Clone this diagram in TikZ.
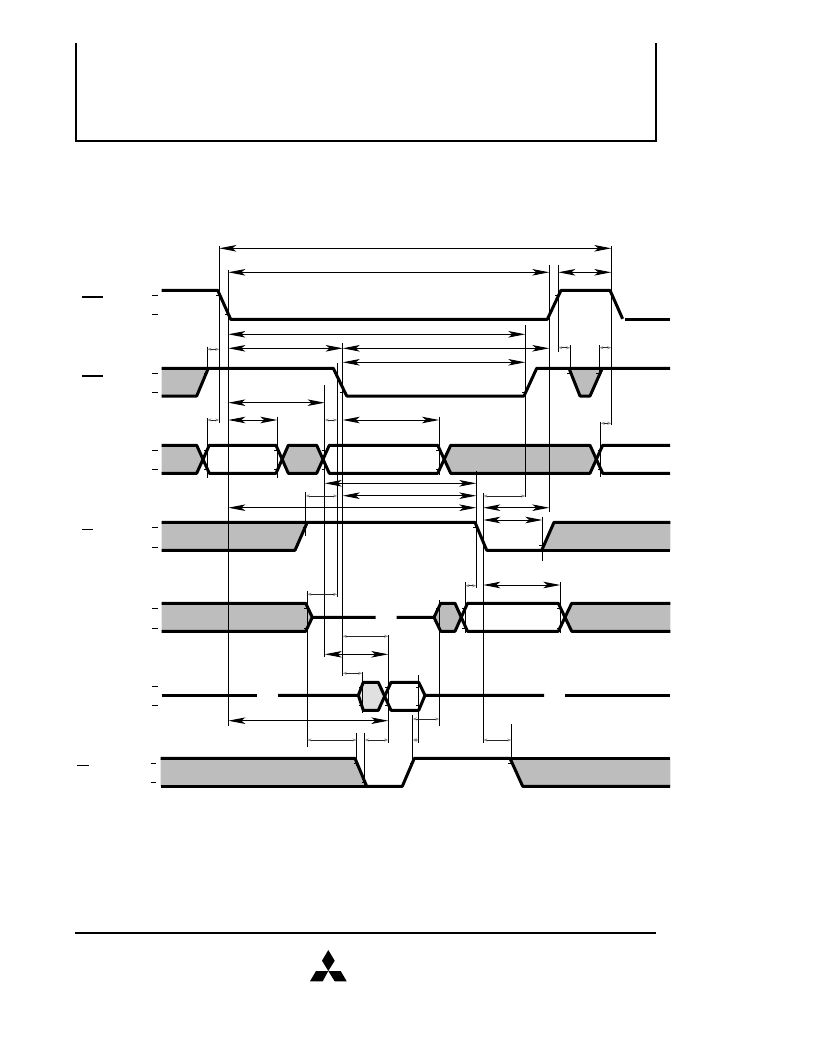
\documentclass[tikz,border=0pt]{standalone}
\usetikzlibrary{arrows.meta}
\definecolor{wavegray}{HTML}{BDBDBD}
\definecolor{wavelight}{HTML}{E0E0E0}
\tikzset{
  x=1pt,y=-1pt,
  wave/.style={line width=3pt,line join=round,black},
  bare/.style={fill=wavegray,draw=none},
  barelight/.style={fill=wavelight,draw=none},
  frameline/.style={line width=2pt,black},
  tick/.style={line width=1.2pt,black},
  edgetick/.style={line width=0.8pt,black},
  vline/.style={line width=1pt,black},
  bigarrow/.style={line width=0.9pt,black,{Stealth[length=17pt,width=6.5pt,inset=4pt]}-{Stealth[length=17pt,width=6.5pt,inset=4pt]}},
  smallarrow/.style={line width=0.7pt,black!85,{Stealth[length=4pt,width=3pt,inset=1pt,black!45]}-{Stealth[length=4pt,width=3pt,inset=1pt,black!45]}},
}
\begin{document}
\begin{tikzpicture}
\useasboundingbox (0,0) rectangle (816,1056);
% frame
\draw[frameline] (76,43) -- (76,141) -- (656,141) -- (656,43);
\draw[frameline] (75,933) -- (656,933);
% logo
\fill[black] (328.3,950) -- (334.7,960.7) -- (328.3,971) -- (322,960.7) -- cycle;
\fill[black] (328.3,971) -- (316,971) -- (310,981.3) -- (322.7,981.3) -- cycle;
\fill[black] (328.3,971) -- (340.7,971) -- (346.7,981.3) -- (334.7,981.3) -- cycle;
% gray areas
\path[bare] (161.7,368.3) -- (208.3,368.3) -- (196.7,396) -- (161.7,396) -- cycle;
\path[bare] (569,368.3) -- (602.3,368.3) -- (590,396) -- (580,396) -- cycle;
\path[bare] (161.7,445.3) -- (196.7,445.3) -- (202.9,459.3) -- (196.7,473.3) -- (161.7,473.3) -- cycle;
\path[bare] (288.3,445.3) -- (316.7,445.3) -- (323,459.3) -- (316.7,473.3) -- (288.3,473.3) -- (282.2,459.3) -- cycle;
\path[bare] (450.7,445.3) -- (590,445.3) -- (596.3,459.3) -- (590,473.3) -- (450.7,473.3) -- (444.2,459.3) -- cycle;
\path[bare] (161.7,522.3) -- (307.3,522.3) -- (295,550.3) -- (161.7,550.3) -- cycle;
\path[bare] (554,522.3) -- (670.3,522.3) -- (670.3,550.3) -- (541.7,550.3) -- cycle;
\path[bare] (161.7,603.3) -- (305.7,603.3) -- (312.3,617.3) -- (305.7,631.3) -- (161.7,631.3) -- cycle;
\path[bare] (434,617.3) -- (440.7,603.3) -- (455,603.3) -- (462,617.3) -- (455,631.3) -- (440.7,631.3) -- cycle;
\path[bare] (571.7,603.3) -- (670.3,603.3) -- (670.3,631.3) -- (571.7,631.3) -- (565,617.3) -- cycle;
\path[barelight] (358.3,695.3) -- (363.3,682.3) -- (378.3,682.3) -- (384.7,696.3) -- (378.3,710.3) -- (363.3,710.3) -- cycle;
\path[bare] (160.7,758.3) -- (355,758.3) -- (366.7,786.3) -- (160.7,786.3) -- cycle;
\path[bare] (510,758.3) -- (670.3,758.3) -- (670.3,786.3) -- (522.7,786.3) -- cycle;
% waves
\draw[wave] (161.7,290.3) -- (217.7,290.3) -- (230.7,319.3) -- (547.3,319.3) -- (561,290.3) -- (610,290.3) -- (622.6,318.8);
\draw[wave] (624.5,319.3) -- (670,319.3);
\draw[wave] (161.7,368.3) -- (333.3,368.3) -- (346.7,396) -- (524,396) -- (536.7,368.3) -- (670,368.3);
\draw[wave] (161.7,396) -- (196.7,396) -- (208.3,368.3);
\draw[wave] (569,368.3) -- (580,396) -- (590,396) -- (602.3,368.3);
\draw[wave] (161.7,445.3) -- (196.7,445.3) -- (209.3,473.3) -- (276,473.3) -- (288.3,445.3) -- (316.7,445.3) -- (329.3,473.3) -- (437.7,473.3) -- (450.7,445.3) -- (590,445.3) -- (602.7,473.3) -- (670,473.3);
\draw[wave] (161.7,473.3) -- (196.7,473.3) -- (209.3,445.3) -- (276,445.3) -- (288.3,473.3) -- (316.7,473.3) -- (329.3,445.3) -- (437.7,445.3) -- (450.7,473.3) -- (590,473.3) -- (602.7,445.3) -- (670,445.3);
\draw[wave] (161.7,550.3) -- (295,550.3) -- (307.3,522.3);
\draw[wave] (161.7,522.3) -- (475,522.3) -- (486.7,550.3) -- (541.7,550.3) -- (554,522.3) -- (670.3,522.3);
\draw[wave] (541.7,550.3) -- (670.3,550.3);
\draw[wave] (161.7,603.3) -- (305.7,603.3) -- (312.3,617.3) -- (375.7,617.3);
\draw[wave] (161.7,631.3) -- (305.7,631.3) -- (312.3,617.3);
\draw[wave] (396.7,617.3) -- (434,617.3) -- (440.7,603.3) -- (455,603.3) -- (467.5,631.3) -- (558.3,631.3) -- (571.7,603.3) -- (670.3,603.3);
\draw[wave] (434,617.3) -- (440.7,631.3) -- (455,631.3) -- (467.5,603.3) -- (558.3,603.3) -- (571.7,631.3) -- (670.3,631.3);
\draw[wave] (161.7,695.3) -- (256.7,695.3);
\draw[wave] (278,695.3) -- (358.3,695.3) -- (363.3,682.3) -- (378.3,682.3) -- (391,710.3) -- (418.7,710.3) -- (425,695.3) -- (544,695.3);
\draw[wave] (358.3,695.3) -- (363.3,710.3) -- (378.3,710.3) -- (391,682.3) -- (418.7,682.3) -- (425,695.3);
\draw[wave] (565.3,695.3) -- (670,695.3);
\draw[wave] (160.7,758.3) -- (355,758.3) -- (366.7,786.3) -- (402.3,786.3) -- (414.3,758.3) -- (510,758.3) -- (522.7,786.3) -- (670,786.3);
\draw[wave] (160.7,786.3) -- (366.7,786.3);
\draw[wave] (510,758.3) -- (670,758.3);
% level ticks and overbars
\foreach \yy in {295.7,314.3,373.3,392.3,450.3,469.3,527.3,547.7,608.3,628.3,686.7,705.3}
  \draw[tick] (152.3,\yy) -- (157.7,\yy);
\foreach \yy in {763.3,782.3}
  \draw[tick] (150.7,\yy) -- (156,\yy);
\draw[tick] (82.3,297) -- (103.3,297);
\draw[tick] (82.3,376) -- (103.3,376);
\draw[tick] (82.3,529.3) -- (92.7,529.3);
\draw[tick] (77,765.3) -- (89.3,765.3);
% vertical reference lines
\foreach \xx/\ya/\yb in {
  207.3/346.7/373, 207.3/418.3/478.3, 219.3/246/423, 228.3/270/726,
  277.3/416.7/478, 324.7/385/657.3, 337.3/362.7/597.3, 342.7/343.3/676,
  305.7/491.7/536, 307.3/590.7/746.7, 356.7/733.3/766, 364.7/732.7/788.3,
  362.3/671.7/712.7, 525.3/325/496.7, 549.3/265/511.7, 558.3/265/351.7,
  611.3/246/425, 570.3/345/373, 599.3/345/373, 439/416.7/475,
  600.7/421.7/476.7, 476.3/470.7/588.3, 483.3/493.3/743.3, 542.3/516.7/560.7,
  465.3/581.7/633.3, 560.3/581.7/633.3, 439.3/600/726, 388.3/635/742.7,
  412.7/715/763, 418.7/675/743.3, 511.3/724/761.7}
  \draw[vline] (\xx,\ya) -- (\xx,\yb);
% small marks where reference lines meet the edges
\foreach \xx/\yy in {
  207.3/373, 219.3/295, 228.3/314, 207.3/450, 207.3/469, 277.3/450, 277.3/469,
  324.7/450, 324.7/469, 439/450, 439/469, 600.7/450, 600.7/469, 305.7/527,
  525.3/392, 542.3/545, 558.3/295, 570.3/373, 599.3/373, 337.3/373, 342.7/392,
  307.3/608, 307.3/628, 465.3/608, 465.3/628, 560.3/608, 560.3/628,
  439.3/608, 362.3/687, 362.3/705, 388.3/687, 388.3/705, 418.7/687, 418.7/705,
  356.7/763, 364.7/782, 412.7/763, 511.3/763, 476.3/527}
  \draw[edgetick] (\xx-3,\yy) -- (\xx,\yy);
% large dimension arrows
\foreach \yy/\xa/\xb in {
  248.3/219.3/611.3, 272.3/228.3/549.3, 272.3/558.3/611.3, 334.3/228.3/525.3,
  348.3/228.3/342.7, 348.3/342.7/549.3, 362.3/342.7/525.3, 402.7/228.3/324.7,
  420/228.3/277.3, 420/342.7/439, 483.3/324.7/476.3, 495.7/342.7/476.3,
  507.7/228.3/476.3, 507.7/483.3/549.3, 520/483.3/542.3, 585/483.3/560.3,
  654.3/324.7/388.3, 720.7/228.3/388.3}
  \draw[bigarrow] (\xa,\yy) -- (\xb,\yy);
% small dimension arrows
\foreach \yy/\xa/\xb in {
  349.3/207.3/219.3, 420/207.3/219.3, 420/324.7/337.3, 347.7/558.3/570.3,
  347.7/599.3/611.3, 423.3/600.7/611.3, 496/305.7/337.3, 496/483.3/525.3,
  594.3/307.3/337.3, 585.7/465.3/476.3, 636.3/342.7/388.3, 673.3/342.7/362.3,
  740/307.3/356.7, 740/364.7/388.3, 740/412.7/418.7, 719/412.7/439.3,
  740/483.3/511.3}
  \draw[smallarrow] (\xa,\yy) -- (\xb,\yy);
\end{tikzpicture}
\end{document}
